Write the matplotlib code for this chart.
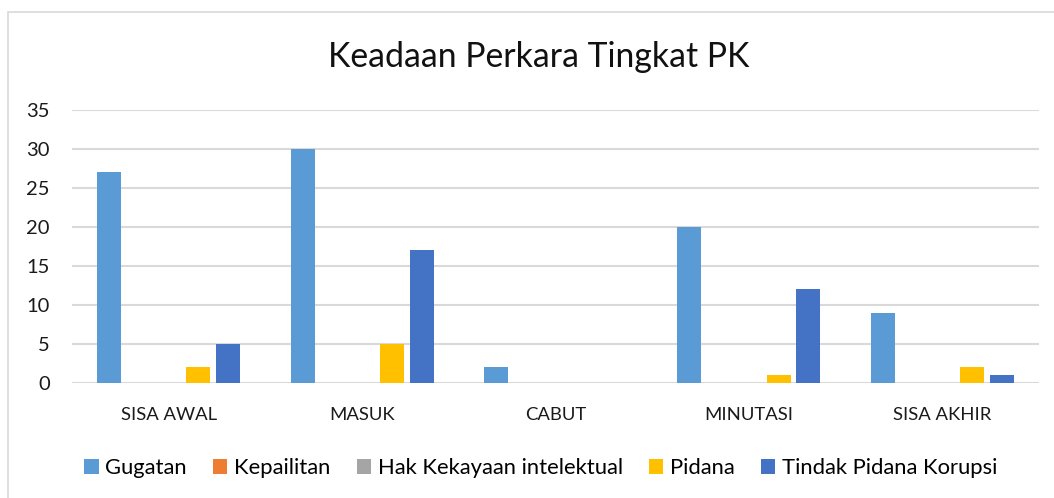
import matplotlib.pyplot as plt
import numpy as np
from matplotlib.patches import Rectangle

categories = ["SISA AWAL", "MASUK", "CABUT", "MINUTASI", "SISA AKHIR"]
series_names = ["Gugatan", "Kepailitan", "Hak Kekayaan intelektual", "Pidana", "Tindak Pidana Korupsi"]
gugatan = [27, 30, 2, 20, 9]
kepailitan = [0, 0, 0, 0, 0]
hak_ki = [0, 0, 0, 0, 0]
pidana = [2, 5, 0, 1, 2]
tindak_korupsi = [5, 17, 0, 12, 1]
colors = ["#5B9BD5", "#ED7D31", "#A5A5A5", "#FFC000", "#4472C4"]

plt.rcParams["font.family"] = ["Lato", "DejaVu Sans"]

fig = plt.figure(figsize=(10.54, 4.98), dpi=100)
ax = fig.add_axes([0.0683, 0.231, 0.9175, 0.548])

x = np.arange(len(categories))
pitch = 0.154
width = 0.124
all_series = [gugatan, kepailitan, hak_ki, pidana, tindak_korupsi]
for i, (name, vals, c) in enumerate(zip(series_names, all_series, colors)):
    ax.bar(x + (i - 2) * pitch, vals, width, color=c, label=name, zorder=3)

ax.set_xlim(-0.5, len(categories) - 0.5)
ax.set_ylim(0, 35)
ax.set_yticks(range(0, 36, 5))
ax.set_xticks(x)
ax.set_xticklabels(categories)
ax.tick_params(axis="both", length=0, colors="#1a1a1a")
ax.tick_params(axis="x", pad=17, labelsize=13.3)
ax.tick_params(axis="y", pad=16, labelsize=14.5)
ax.grid(axis="y", color="#D9D9D9", linewidth=1.5, zorder=0)
for s in ax.spines.values():
    s.set_visible(False)

fig.text(0.511, 0.885, "Keadaan Perkara Tingkat PK", ha="center", va="center",
         fontsize=24.3, color="#111111")

fig.legend(loc="center", bbox_to_anchor=(0.513, 0.06), ncol=5, frameon=False,
           fontsize=15.8, handlelength=0.65, handleheight=0.65, handletextpad=0.3,
           columnspacing=1.2)

# chart border (only left and top edges fall inside the image)
fig.patches.append(Rectangle((8 / 1054, -0.1), 1.1, 1.1 - 12 / 498,
                             transform=fig.transFigure, fill=False,
                             edgecolor="#D9D9D9", linewidth=1.2))

fig.savefig("out.png", dpi=100)
